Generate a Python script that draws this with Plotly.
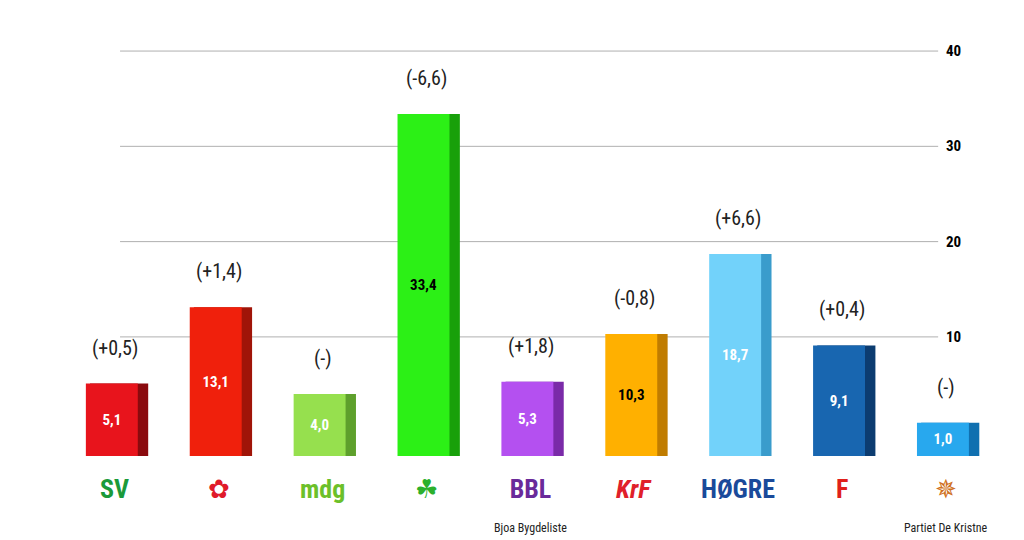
import plotly.graph_objects as go

partier = ["SV", "Ap", "MDG", "Sp", "BBL", "KrF", "H", "FrP", "PDK"]
oppslutning = [5.1, 13.1, 4.0, 33.4, 5.3, 10.3, 18.7, 9.1, 1.0]
endring = ["(+0,5)", "(+1,4)", "(-)", "(-6,6)", "(+1,8)", "(-0,8)", "(+6,6)", "(+0,4)", "(-)"]
farger = ["#e8141c", "#f0200c", "#96e04e", "#2cf016", "#b450f0", "#ffb000", "#72d2fa", "#1866b0", "#28a8ee"]
sidefarger = ["#8a0a0e", "#a01408", "#5ea02c", "#18a00a", "#7a2aa8", "#c07c00", "#3a9ccc", "#0c3c70", "#1070b0"]
tekstfarge = ["white", "white", "white", "black", "white", "black", "white", "white", "white"]
logo = ["<b>SV</b>", "✿", "<b>mdg</b>", "☘", "<b>BBL</b><br><span style='font-size:12px;color:#222'>Bjoa Bygdeliste</span>",
        "<b><i>KrF</i></b>", "<b>HØGRE</b>", "<b>F</b>", "✵<br><span style='font-size:12px;color:#222'>Partiet De Kristne</span>"]
logofarge = ["#1a9a3a", "#e01a2a", "#6cc02a", "#2cb02c", "#6a2a9a", "#e0202a", "#1a4a9a", "#e0201a", "#d07020"]
ticks = [10, 20, 30, 40]

fnt = "Liberation Sans Narrow, Roboto Condensed, Arial Narrow, sans-serif"
fig = go.Figure()
# side face for a faux 3D look
fig.add_bar(x=partier, y=[v + 2.5 for v in oppslutning], base=-2.5, width=0.56, offset=-0.24,
            marker=dict(color=sidefarger, line_width=0), hoverinfo="skip")
fig.add_bar(x=partier, y=[v + 2.5 for v in oppslutning], base=-2.5, width=0.5, offset=-0.28,
            marker=dict(color=farger, line_width=0),
            text=[f"<b>{str(v).replace('.', ',')}</b>" for v in oppslutning],
            textposition="inside", insidetextanchor="middle",
            textfont=dict(color=tekstfarge, size=15, family=fnt))

for t in ticks:
    fig.add_shape(type="line", xref="paper", x0=0.061, x1=0.936, y0=t, y1=t,
                  line=dict(color="#b0b0b0", width=1), layer="below")
    fig.add_annotation(xref="paper", x=0.963, y=t, text=f"<b>{t}</b>", showarrow=False,
                       font=dict(size=15, color="black", family=fnt))

for p, v, e in zip(partier, oppslutning, endring):
    fig.add_annotation(x=p, y=v, text=e, showarrow=False, yshift=36,
                       font=dict(size=20, color="#222", family=fnt))
for p, l, c in zip(partier, logo, logofarge):
    fig.add_annotation(x=p, y=-2.5, text=l, showarrow=False, yanchor="top", yshift=-16,
                       font=dict(size=26, color=c, family=fnt))

fig.update_layout(
    width=1024, height=540, barmode="overlay", showlegend=False,
    plot_bgcolor="white", paper_bgcolor="white",
    margin=dict(l=55, r=34, t=24, b=92),
    xaxis=dict(visible=False),
    yaxis=dict(range=[-2.5, 42], visible=False),
)
fig.write_html("out.html")
